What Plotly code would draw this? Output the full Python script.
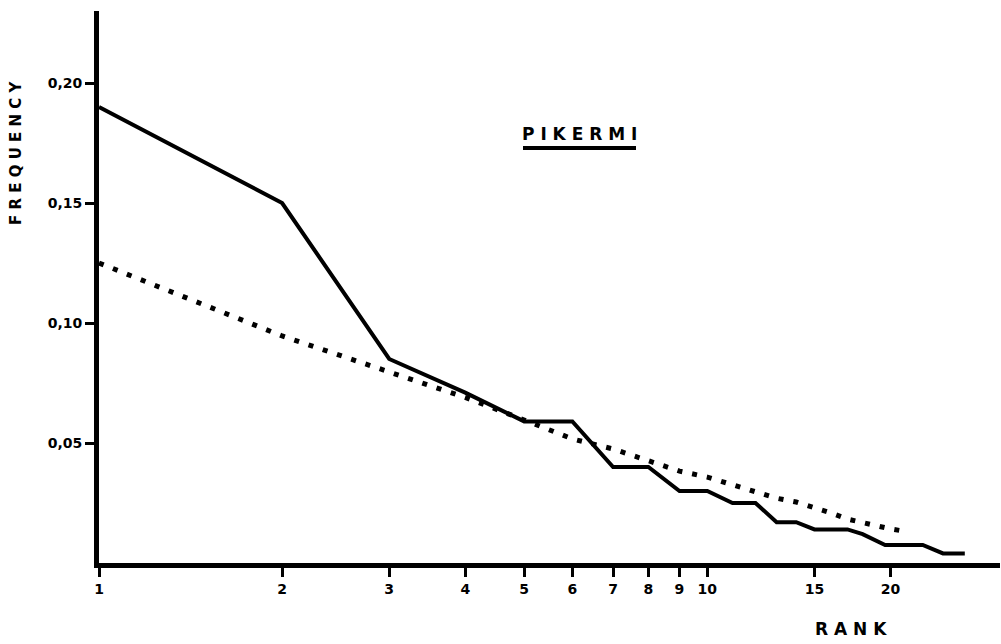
import plotly.graph_objects as go

# ---- data ----
rank_solid = [1, 2, 3, 4, 5, 6, 7, 8, 9, 10, 11, 12, 13, 14, 15, 17, 18, 19.6, 22.6, 24.4, 26.5]
freq_solid = [0.190, 0.150, 0.085, 0.071, 0.059, 0.059, 0.040, 0.040, 0.030, 0.030,
              0.025, 0.025, 0.017, 0.017, 0.014, 0.014, 0.012, 0.0075, 0.0075, 0.004, 0.004]

rank_dot = list(range(1, 22))
freq_dot = [0.125, 0.0946, 0.0796, 0.069, 0.0596, 0.0517, 0.0475, 0.0425, 0.0383, 0.0358,
            0.0325, 0.030, 0.027, 0.0254, 0.0233, 0.0208, 0.0183, 0.0167, 0.0154, 0.0142, 0.0133]

x_tickvals = [1, 2, 3, 4, 5, 6, 7, 8, 9, 10, 15, 20]
x_ticktext = ["1", "2", "3", "4", "5", "6", "7", "8", "9", "10", "15", "20"]
y_tickvals = [0.05, 0.10, 0.15, 0.20]
y_ticktext = ["0,05", "0,10", "0,15", "0,20"]

# ---- layout geometry ----
W, H = 1001, 644
L, R, T, B = 99, 1, 11, 81
PW, PH = W - L - R, H - T - B


def px(xp):
    return (xp - L) / PW


def py(yp):
    return (H - B - yp) / PH


FONT = "DejaVu Sans"

fig = go.Figure()
fig.add_trace(go.Scatter(
    x=rank_dot, y=freq_dot, mode="lines",
    line=dict(color="black", width=5, dash="5px,10px"),
    showlegend=False, hoverinfo="skip"))
fig.add_trace(go.Scatter(
    x=rank_solid, y=freq_solid, mode="lines",
    line=dict(color="black", width=4),
    showlegend=False, hoverinfo="skip"))

fig.update_layout(
    width=W, height=H,
    margin=dict(l=L, r=R, t=T, b=B, pad=0),
    paper_bgcolor="white", plot_bgcolor="white",
    showlegend=False,
    xaxis=dict(
        type="log", range=[0, 902 / 609],
        showline=True, linewidth=5, linecolor="black",
        showgrid=False, zeroline=False,
        ticks="outside", ticklen=9, tickwidth=3, tickcolor="black",
        tickvals=x_tickvals, ticktext=x_ticktext,
        tickfont=dict(family=FONT, size=14, color="black", weight="bold"),
    ),
    yaxis=dict(
        range=[0, 0.23],
        showline=True, linewidth=5, linecolor="black",
        showgrid=False, zeroline=False,
        ticks="outside", ticklen=9, tickwidth=3, tickcolor="black",
        tickvals=y_tickvals, ticktext=y_ticktext,
        tickfont=dict(family=FONT, size=14, color="black", weight="bold"),
    ),
    annotations=[
        dict(text="P I K E R M I", xref="paper", yref="paper", x=px(579), y=py(134),
             xanchor="center", yanchor="middle", showarrow=False,
             font=dict(family=FONT, size=17, color="black", weight="bold")),
        dict(text="F R E Q U E N C Y", xref="paper", yref="paper", x=px(16), y=py(153),
             xanchor="center", yanchor="middle", showarrow=False, textangle=-90,
             font=dict(family=FONT, size=15, color="black", weight="bold")),
        dict(text="R A N K", xref="paper", yref="paper", x=px(851), y=py(629),
             xanchor="center", yanchor="middle", showarrow=False,
             font=dict(family=FONT, size=17, color="black", weight="bold")),
    ],
    shapes=[
        dict(type="line", xref="paper", yref="paper", x0=px(523), x1=px(636),
             y0=py(148), y1=py(148), line=dict(color="black", width=4)),
    ],
)

fig.write_html("out.html")
